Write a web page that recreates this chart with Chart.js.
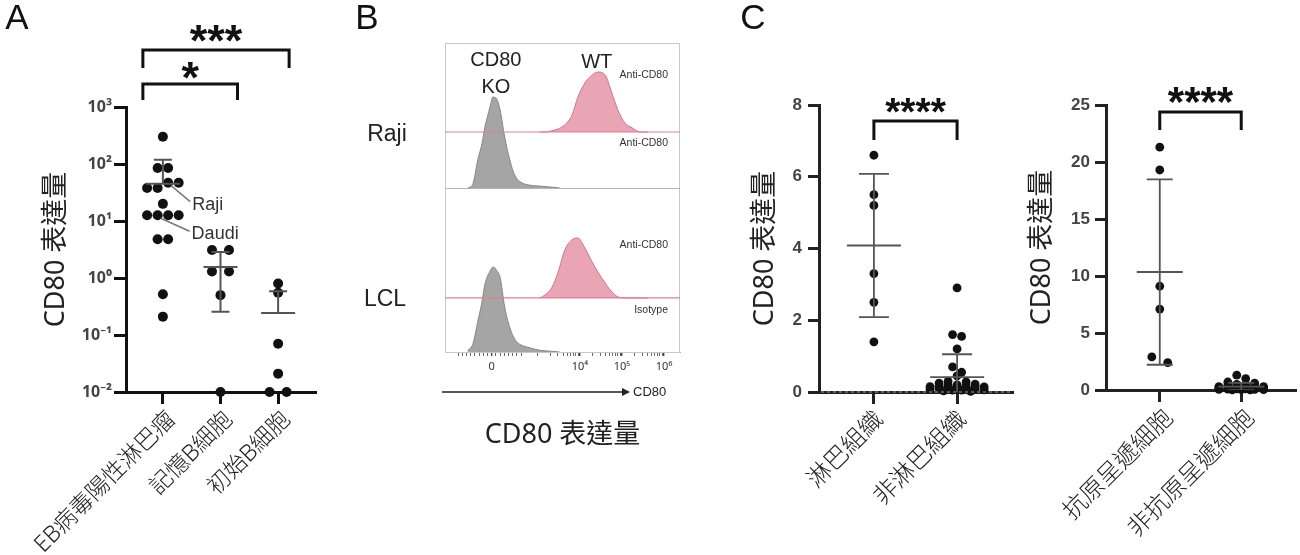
<!DOCTYPE html>
<html>
<head>
<meta charset="utf-8">
<script src="https://cdn.jsdelivr.net/npm/chart.js@4.4.1/dist/chart.umd.min.js"></script>
<style>
  body { margin: 0; background: #fff; }
  #wrap { position: relative; width: 1300px; height: 555px; overflow: hidden; background: #fff; }
  canvas { position: absolute; top: 0; }
</style>
</head>
<body>
<div id="wrap">
  <canvas id="cA" width="335" height="555" style="left:0px"></canvas>
  <canvas id="cB" width="360" height="555" style="left:340px"></canvas>
  <canvas id="cC1" width="280" height="555" style="left:740px"></canvas>
  <canvas id="cC2" width="280" height="555" style="left:1020px"></canvas>
</div>
<script>
const LAT = '"Liberation Sans", Arial, sans-serif';
const SUP = '"Noto Sans", "Liberation Sans", sans-serif';
const CJK = '"Noto Sans", "Noto Sans CJK TC", "Noto Sans CJK JP", sans-serif';

// panel A
const catsA = ['EB病毒陽性淋巴瘤', '記憶B細胞', '初始B細胞'];
const yTicksA = [0.01, 0.1, 1, 10, 100, 1000];
const yLabelsA = ['10⁻²', '10⁻¹', '10⁰', '10¹', '10²', '10³'];
const ebLymphoma = [300, 85, 85, 47, 47, 38, 38, 20, 12.6, 12.6, 12.6, 12.6, 4.8, 4.8, 0.52, 0.21];
const memoryB = [3.1, 3.1, 1.3, 1.3, 0.5, 0.01];
const naiveB = [0.8, 0.55, 0.07, 0.021, 0.01, 0.01];
const rajiIdx = 3, daudiIdx = 9;

// panel B (flow histograms, % of mode)
const koBins = [1.33, 1.45, 1.57, 1.67, 1.74, 1.86, 1.93, 2.02, 2.10, 2.21, 2.33, 2.45, 2.57, 2.81, 3.05, 3.29, 3.52];
const rajiKO = [0, 4, 31, 49, 67, 89, 100, 98, 86, 56, 31, 14, 7, 3, 2, 1, 0];
const lclKO = [2, 9, 36, 59, 80, 95, 100, 96, 88, 53, 29, 15, 9, 5, 2, 1, 0];
const wtBins = [3.05, 3.17, 3.33, 3.48, 3.64, 3.81, 3.95, 4.12, 4.29, 4.43, 4.60, 4.76, 4.90, 5.07, 5.24, 5.43, 5.62];
const rajiWT = [0, 0, 2, 5, 12, 28, 58, 82, 95, 100, 95, 65, 37, 15, 7, 0, 0];
const lclWT = [0, 5, 17, 43, 80, 97, 100, 83, 60, 43, 25, 10, 2, 0, 0, 0, 0];
const flowTickVals = [1.9, 4, 5, 6];
const flowTickText = ['0', '10⁴', '10⁵', '10⁶'];

// panel C
const catsC1 = ['淋巴組織', '非淋巴組織'];
const lymphTissue = [6.6, 5.5, 5.2, 3.3, 2.5, 1.4];
const nonLymphTissue = [2.9, 1.6, 1.55, 1.2, 0.7, 0.55, 0.45, 0.3, 0.28, 0.25, 0.22, 0.2, 0.2, 0.18, 0.17,
  0.15, 0.15, 0.14, 0.12, 0.12, 0.1, 0.1, 0.08, 0.08, 0.06, 0.05, 0.05, 0.03, 0.02];
const catsC2 = ['抗原呈遞細胞', '非抗原呈遞細胞'];
const apc = [21.3, 19.3, 9.1, 7.1, 2.9, 2.4];
const nonApc = [1.3, 1.0, 0.7, 0.6, 0.5, 0.45, 0.4, 0.35, 0.3, 0.3, 0.25, 0.2, 0.2, 0.15, 0.15,
  0.12, 0.1, 0.1, 0.08, 0.06, 0.05, 0.04, 0.03, 0.02, 0.02];

// ---------- helpers
function stats(a) {
  const m = a.reduce((s, v) => s + v, 0) / a.length;
  const sd = Math.sqrt(a.reduce((s, v) => s + (v - m) ** 2, 0) / (a.length - 1));
  return { m, sd };
}

// simple row swarm: x offsets in px
function swarm(values, toPx, gap, tol, perRow, mode) {
  const order = values.map((v, i) => i).sort((a, b) => values[b] - values[a]);
  const off = values.map(() => 0);
  let row = [];
  const flush = () => {
    const n = row.length;
    const slots = row.map((_, j) => (j - (n - 1) / 2) * gap);
    if (mode === 'asc') {
      row.slice().sort((a, b) => values[a] - values[b]).forEach((k, j) => { off[k] = slots[j]; });
    } else {
      slots.sort((a, b) => Math.abs(a) - Math.abs(b) || a - b);
      row.forEach((k, j) => { off[k] = slots[j]; });
    }
    row = [];
  };
  order.forEach(i => {
    if (row.length && (toPx(values[row[0]]) - toPx(values[i]) > tol || row.length >= perRow)) flush();
    row.push(i);
  });
  flush();
  return off;
}

function dots(values, cat, toPx, gap, pxPerCat, perRow, mode, r) {
  const off = swarm(values, toPx, gap, 8.8, perRow, mode);
  return {
    data: values.map((v, i) => ({ x: cat + off[i] / pxPerCat, y: v })),
    pointRadius: r, pointHoverRadius: r, backgroundColor: '#111', borderWidth: 0, clip: false
  };
}

function txt(ctx, s, x, y, font, color, align, base) {
  ctx.font = font; ctx.fillStyle = color;
  ctx.textAlign = align || 'center'; ctx.textBaseline = base || 'middle';
  ctx.fillText(s, x, y);
}

function bracket(ctx, x1, x2, yTop, yBot, w) {
  ctx.beginPath();
  ctx.moveTo(x1, yBot); ctx.lineTo(x1, yTop); ctx.lineTo(x2, yTop); ctx.lineTo(x2, yBot);
  ctx.lineWidth = w; ctx.strokeStyle = '#111'; ctx.lineJoin = 'miter'; ctx.lineCap = 'butt';
  ctx.stroke();
}

function stars(ctx, s, cx, cy, size) {
  txt(ctx, s, cx, cy + 0.55 * size, 'bold ' + size + 'px ' + LAT, '#111', 'center', 'alphabetic');
}

function errBars(groups, meanHalf, capHalf, w) {
  return {
    id: 'errBars',
    afterDatasetsDraw(chart) {
      const { ctx, scales: { x, y }, chartArea: a } = chart;
      ctx.save();
      ctx.beginPath(); ctx.rect(a.left, a.top - 5, a.right - a.left, a.bottom - a.top + 5); ctx.clip();
      ctx.strokeStyle = '#555'; ctx.lineWidth = w;
      groups.forEach((g, i) => {
        const { m, sd } = stats(g);
        const cx = x.getPixelForValue(i);
        const yM = y.getPixelForValue(m), yU = y.getPixelForValue(m + sd);
        const lo = m - sd;
        ctx.beginPath();
        ctx.moveTo(cx - meanHalf, yM); ctx.lineTo(cx + meanHalf, yM);
        ctx.moveTo(cx, yM); ctx.lineTo(cx, yU);
        ctx.moveTo(cx - capHalf, yU); ctx.lineTo(cx + capHalf, yU);
        if (!(y.type === 'logarithmic' && lo <= 0)) {
          const yL = y.getPixelForValue(lo);
          ctx.moveTo(cx, yM); ctx.lineTo(cx, yL);
          ctx.moveTo(cx - capHalf, yL); ctx.lineTo(cx + capHalf, yL);
        }
        ctx.stroke();
      });
      ctx.restore();
    }
  };
}

// keep the rotated labels from pushing the plot area around
function fixX(h) {
  return s => { s.height = h; s.paddingLeft = 0; s.paddingRight = 0; };
}

const noPlug = { legend: { display: false }, tooltip: { enabled: false } };

// ---------- panel A
const annotA = {
  id: 'annotA',
  afterDraw(chart) {
    const { ctx, scales: { x }, chartArea: a } = chart;
    ctx.save();
    txt(ctx, 'A', 17, 19, '35px ' + LAT, '#111');
    const xl = x.getPixelForValue(0) - 20;
    const x1 = x.getPixelForValue(1) + 17, x2 = x.getPixelForValue(2) + 11;
    bracket(ctx, xl, x1, a.top - 23, a.top - 7, 3);
    bracket(ctx, xl, x2, a.top - 57, a.top - 39, 3);
    stars(ctx, '*', (xl + x1) / 2, a.top - 39, 45);
    stars(ctx, '***', (xl + x2) / 2, a.top - 76, 45);
    const meta = chart.getDatasetMeta(0);
    [[rajiIdx, 'Raji', 24, 22], [daudiIdx, 'Daudi', 34, 19]].forEach(([i, s, dx, dy]) => {
      const el = meta.data[i];
      ctx.beginPath();
      ctx.moveTo(el.x + 3, el.y + 3); ctx.lineTo(el.x + dx - 2, el.y + dy - 3);
      ctx.strokeStyle = '#777'; ctx.lineWidth = 1.5; ctx.stroke();
      txt(ctx, s, el.x + dx, el.y + dy, '18px ' + LAT, '#333', 'left');
    });
    ctx.restore();
  }
};

const logPxA = v => Math.log10(v) * 57;
new Chart(document.getElementById('cA'), {
  type: 'scatter',
  data: {
    datasets: [
      dots(ebLymphoma, 0, logPxA, 10.5, 57.5, 8, 'asc', 5),
      dots(memoryB, 1, logPxA, 17, 57.5, 8, 'asc', 5),
      dots(naiveB, 2, logPxA, 17, 57.5, 8, 'asc', 5)
    ]
  },
  options: {
    responsive: false, animation: false,
    layout: { padding: { top: 107, right: 20, left: 0, bottom: 0 } },
    plugins: noPlug,
    scales: {
      x: {
        type: 'linear', min: -0.64, max: 2.64,
        afterBuildTicks: s => { s.ticks = catsA.map((c, i) => ({ value: i })); },
        afterFit: fixX(163),
        ticks: { autoSkip: false, minRotation: 45, maxRotation: 45, padding: 2, labelOffset: 9,
          font: { family: CJK, size: 23, weight: '300' }, color: '#222', callback: v => catsA[v] },
        grid: { drawOnChartArea: false, tickLength: 12, lineWidth: 3, color: '#111' },
        border: { color: '#111', width: 3 }
      },
      y: {
        type: 'logarithmic', min: 0.01, max: 1000,
        afterBuildTicks: s => { s.ticks = yTicksA.map(v => ({ value: v })); },
        afterFit: s => { s.width = 126; },
        ticks: { padding: 2, font: { family: SUP, size: 16, weight: 'bold' }, color: '#444',
          callback: v => yLabelsA[yTicksA.findIndex(t => Math.abs(Math.log10(t) - Math.log10(v)) < 1e-6)] },
        grid: { drawOnChartArea: false, tickLength: 12, lineWidth: 3, color: '#111' },
        border: { color: '#111', width: 3 },
        title: { display: true, text: 'CD80 表達量', font: { family: CJK, size: 27 }, color: '#222',
          padding: { top: 40, bottom: 0 } }
      }
    }
  },
  plugins: [errBars([ebLymphoma, memoryB, naiveB], 17, 9, 2), annotA]
});

// ---------- panel B
const GRAY = ['rgb(165,165,165)', 'rgb(135,135,135)'];
const PINK = ['rgb(234,165,181)', 'rgb(214,112,138)'];
const tier = { rajiWT: [71.2, 0.194], rajiKO: [53.1, 0.294], lclWT: [17.5, 0.194], lclKO: [0, 0.275] };

function hist(bins, counts, t, col) {
  const [base, k] = t;
  return {
    data: bins.map((x, i) => ({ x, y: base + counts[i] * k })),
    fill: { value: base }, backgroundColor: col[0], borderColor: col[1], borderWidth: 1,
    pointRadius: 0, cubicInterpolationMode: 'monotone'
  };
}

const flowTicks = flowTickVals.slice();
for (let d = -8; d <= 7; d++) if (d !== 0) flowTicks.push(1.9 + d * 0.1);
for (const k of [3, 4, 5]) for (let m = 2; m <= 9; m++) flowTicks.push(k + Math.log10(m));
flowTicks.push(3);
flowTicks.sort((a, b) => a - b);
const isMajor = v => flowTickVals.some(t => Math.abs(t - v) < 1e-6);

const annotB = {
  id: 'annotB',
  afterDatasetsDraw(chart) {
    const { ctx, scales: { x, y }, chartArea: a } = chart;
    ctx.save();
    ctx.strokeStyle = '#c8c8c8'; ctx.lineWidth = 1;
    ctx.strokeRect(a.left + 0.5, a.top + 0.5, a.right - a.left - 1, a.bottom - a.top);
    const yDiv = Math.round(y.getPixelForValue(tier.rajiKO[0])) + 0.5;
    ctx.strokeStyle = '#b5b5b5';
    ctx.beginPath(); ctx.moveTo(a.left, yDiv); ctx.lineTo(a.right, yDiv); ctx.stroke();
    ctx.strokeStyle = 'rgb(228,125,150)'; ctx.lineWidth = 1.2;
    [tier.rajiWT[0], tier.lclWT[0]].forEach(b => {
      const yy = y.getPixelForValue(b);
      ctx.beginPath(); ctx.moveTo(a.left, yy); ctx.lineTo(a.right, yy); ctx.stroke();
    });
    const f = '10.5px ' + LAT, rx = a.right - 12;
    txt(ctx, 'Anti-CD80', rx, y.getPixelForValue(tier.rajiWT[0]) - 57, f, '#333', 'right');
    txt(ctx, 'Anti-CD80', rx, y.getPixelForValue(tier.rajiKO[0]) - 45, f, '#333', 'right');
    txt(ctx, 'Anti-CD80', rx, y.getPixelForValue(tier.lclWT[0]) - 53, f, '#333', 'right');
    txt(ctx, 'Isotype', rx, y.getPixelForValue(tier.lclKO[0]) - 42, f, '#333', 'right');

    const big = '20px ' + LAT;
    txt(ctx, 'CD80', x.getPixelForValue(2.0), a.top + 17, big, '#222');
    txt(ctx, 'KO', x.getPixelForValue(2.0), a.top + 44, big, '#222');
    txt(ctx, 'WT', x.getPixelForValue(4.4), a.top + 19, big, '#222');
    txt(ctx, 'Raji', a.left - 58, y.getPixelForValue(tier.rajiWT[0]) + 3, '23px ' + LAT, '#222');
    txt(ctx, 'LCL', a.left - 60, y.getPixelForValue(tier.lclWT[0]) + 2, '23px ' + LAT, '#222');
    txt(ctx, 'B', 27, 19, '35px ' + LAT, '#111');

    // axis arrow
    const ya = a.bottom + 40, xe = a.left + 185;
    ctx.strokeStyle = '#222'; ctx.lineWidth = 1.5;
    ctx.beginPath(); ctx.moveTo(a.left - 3, ya); ctx.lineTo(xe - 6, ya); ctx.stroke();
    ctx.fillStyle = '#222';
    ctx.beginPath(); ctx.moveTo(xe, ya); ctx.lineTo(xe - 8, ya - 4); ctx.lineTo(xe - 8, ya + 4); ctx.closePath(); ctx.fill();
    txt(ctx, 'CD80', xe + 3, ya, '13px ' + LAT, '#222', 'left');
    txt(ctx, 'CD80 表達量', (a.left + a.right) / 2, a.bottom + 83, '27px ' + CJK, '#222');
    ctx.restore();
  }
};

new Chart(document.getElementById('cB'), {
  type: 'line',
  data: {
    datasets: [
      hist(koBins, rajiKO, tier.rajiKO, GRAY),
      hist(wtBins, rajiWT, tier.rajiWT, PINK),
      hist(koBins, lclKO, tier.lclKO, GRAY),
      hist(wtBins, lclWT, tier.lclWT, PINK)
    ]
  },
  options: {
    responsive: false, animation: false,
    layout: { padding: { top: 43, left: 105, right: 20, bottom: 0 } },
    plugins: noPlug,
    scales: {
      x: {
        type: 'linear', min: 0.79, max: 6.38,
        afterBuildTicks: s => { s.ticks = flowTicks.map(v => ({ value: v })); },
        afterFit: fixX(203),
        ticks: { autoSkip: false, maxRotation: 0, padding: 4, font: { family: SUP, size: 11 }, color: '#333',
          callback: v => { const i = flowTickVals.findIndex(t => Math.abs(t - v) < 1e-6); return i < 0 ? '' : flowTickText[i]; } },
        grid: { drawOnChartArea: false, tickLength: 4, color: '#444',
          lineWidth: c => (c.tick && isMajor(c.tick.value)) ? 1.4 : 0.8 },
        border: { color: '#aaa', width: 1 }
      },
      y: { display: false, min: 0, max: 100 }
    }
  },
  plugins: [annotB]
});

// ---------- panel C
function cChart(id, cats, groups, o) {
  const annot = {
    id: 'annotC',
    afterDraw(chart) {
      const { ctx, scales: { x, y }, chartArea: a } = chart;
      ctx.save();
      if (o.letter) txt(ctx, o.letter, 13, 19, '35px ' + LAT, '#111');
      if (o.dashZero) {
        ctx.strokeStyle = '#999'; ctx.lineWidth = 1; ctx.setLineDash([3, 3]);
        ctx.beginPath(); ctx.moveTo(a.left + 2, y.getPixelForValue(0)); ctx.lineTo(a.right, y.getPixelForValue(0)); ctx.stroke();
        ctx.setLineDash([]);
      }
      const x0 = x.getPixelForValue(0), x1 = x.getPixelForValue(1);
      bracket(ctx, x0, x1, a.top + o.br[0], a.top + o.br[1], 3);
      stars(ctx, '****', (x0 + x1) / 2, a.top + o.starY, o.starSize);
      ctx.restore();
    }
  };
  return new Chart(document.getElementById(id), {
    type: 'scatter',
    data: {
      datasets: groups.map((g, i) => dots(g, i, o.toPx, o.gaps[i], o.pxPerCat, o.perRow, 'center', 4.4))
    },
    options: {
      responsive: false, animation: false,
      layout: { padding: { top: 105, right: o.padRight, left: 0, bottom: 0 } },
      plugins: noPlug,
      scales: {
        x: {
          type: 'linear', min: -0.66, max: 1.66,
          afterBuildTicks: s => { s.ticks = cats.map((c, i) => ({ value: i })); },
          afterFit: fixX(o.xH),
          ticks: { autoSkip: false, minRotation: 45, maxRotation: 45, padding: 2, labelOffset: o.labelOff,
            font: { family: CJK, size: 24, weight: '300' }, color: '#222', callback: v => cats[v] },
          grid: { drawOnChartArea: false, tickLength: 12, lineWidth: 3, color: '#222' },
          border: { color: '#222', width: 3 }
        },
        y: {
          min: 0, max: o.yMax,
          afterFit: s => { s.width = o.yW; },
          ticks: { stepSize: o.step, padding: o.tickPad, font: { family: LAT, size: 17, weight: 'bold' }, color: '#444' },
          grid: { drawOnChartArea: false, tickLength: 11, lineWidth: 3, color: '#222' },
          border: { color: '#222', width: 3 },
          title: { display: true, text: 'CD80 表達量', font: { family: CJK, size: 27 }, color: '#222',
            padding: { top: o.titlePad, bottom: 0 } }
        }
      }
    },
    plugins: [errBars(groups, o.meanHalf, o.capHalf, 1.8), annot]
  });
}

cChart('cC1', catsC1, [lymphTissue, nonLymphTissue], {
  letter: 'C', dashZero: true, yMax: 8, step: 2, yW: 79, tickPad: 6, titlePad: 9, xH: 163, padRight: 8,
  toPx: v => v * 35.9, pxPerCat: 83, gaps: [9, 9], perRow: 7, meanHalf: 27, capHalf: 15,
  br: [16, 35], starY: -1, starSize: 39, labelOff: 6
});
cChart('cC2', catsC2, [apc, nonApc], {
  letter: '', dashZero: false, yMax: 25, step: 5, yW: 86, tickPad: 5, titlePad: 6, xH: 165, padRight: 5,
  toPx: v => v * 11.4, pxPerCat: 82, gaps: [16, 9], perRow: 6, meanHalf: 23, capHalf: 13,
  br: [7, 25], starY: -12, starSize: 42, labelOff: 10
});
</script>
</body>
</html>
